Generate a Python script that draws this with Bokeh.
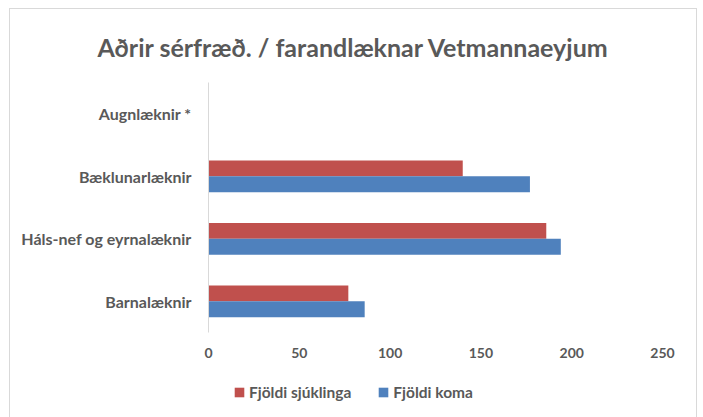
from bokeh.plotting import figure
from bokeh.layouts import column
from bokeh.models import ColumnDataSource, FactorRange, Range1d, Legend, LegendItem, FixedTicker
from bokeh.transform import dodge
from bokeh.embed import file_html
from bokeh.resources import INLINE

categories = ["Augnlæknir *", "Bæklunarlæknir", "Háls-nef og eyrnalæknir", "Barnalæknir"]
fjoldi_sjuklinga = [0, 140, 186, 77]
fjoldi_koma = [0, 177, 194, 86]
x_ticks = [0, 50, 100, 150, 200, 250]
series_names = ["Fjöldi sjúklinga", "Fjöldi koma"]
title_text = "Aðrir sérfræð. / farandlæknar Vetmannaeyjum"

RED = "#C0504D"
BLUE = "#4F81BD"
TXT = "#595959"
FONT = "Lato"

src = ColumnDataSource(dict(cat=categories, sjuk=fjoldi_sjuklinga, koma=fjoldi_koma))

p = figure(width=686, height=361, output_backend="svg", toolbar_location=None,
           y_range=FactorRange(factors=list(reversed(categories)), range_padding=0),
           x_range=Range1d(0, 250),
           min_border_left=198, min_border_right=34, min_border_top=71, min_border_bottom=38)

p.title.text = title_text
p.title.align = "left"
p.title.offset = -111
p.title.text_font = FONT
p.title.text_font_size = "25px"
p.title.text_font_style = "bold"
p.title.text_color = TXT
p.title.standoff = 41

r1 = p.hbar(y=dodge("cat", 0.127, range=p.y_range), right="sjuk", left=0, height=0.254,
            source=src, fill_color=RED, line_color=None)
r2 = p.hbar(y=dodge("cat", -0.127, range=p.y_range), right="koma", left=0, height=0.254,
            source=src, fill_color=BLUE, line_color=None)

p.outline_line_color = None
p.xgrid.visible = False
p.ygrid.visible = False

p.xaxis.ticker = FixedTicker(ticks=x_ticks)
p.xaxis.axis_line_color = None
p.xaxis.major_tick_line_color = None
p.xaxis.minor_tick_line_color = None
p.xaxis.major_label_text_font = FONT
p.xaxis.major_label_text_font_size = "14px"
p.xaxis.major_label_text_font_style = "bold"
p.xaxis.major_label_text_color = TXT
p.xaxis.major_label_standoff = 9

p.yaxis.axis_line_color = "#d9d9d9"
p.yaxis.major_tick_line_color = None
p.yaxis.minor_tick_line_color = None
p.yaxis.major_label_text_font = FONT
p.yaxis.major_label_text_font_size = "16px"
p.yaxis.major_label_text_font_style = "bold"
p.yaxis.major_label_text_color = TXT
p.yaxis.major_label_standoff = 11

# legend strip below the chart (its frame is aligned with the chart frame)
lg = figure(width=686, height=47, output_backend="svg", toolbar_location=None,
            x_range=Range1d(0, 1), y_range=Range1d(0, 1),
            min_border_left=198, min_border_right=34, min_border_top=0, min_border_bottom=0)
lg.axis.visible = False
lg.grid.visible = False
lg.outline_line_color = None
# legend proxies: zero-width bars placed outside the visible range
proxy = ColumnDataSource(dict(y=[-10], right=[0]))
e1 = lg.hbar(y="y", right="right", left=0, height=0.5, source=proxy, fill_color=RED, line_color=None)
e2 = lg.hbar(y="y", right="right", left=0, height=0.5, source=proxy, fill_color=BLUE, line_color=None)

legend = Legend(items=[LegendItem(label=series_names[0], renderers=[e1]),
                       LegendItem(label=series_names[1], renderers=[e2])],
                orientation="horizontal", location=(25, 16),
                label_text_font=FONT, label_text_font_size="15.5px",
                label_text_font_style="bold", label_text_color=TXT,
                glyph_width=12, glyph_height=12, label_standoff=4, spacing=26,
                border_line_color=None, background_fill_alpha=0,
                margin=0, padding=4)
lg.add_layout(legend, "center")

layout = column(p, lg, spacing=0)
layout.styles = {"margin-left": "9px", "margin-top": "8px",
                 "border-top": "1px solid #d9d9d9", "border-left": "1px solid #d9d9d9",
                 "border-right": "1px solid #d9d9d9"}

open("out.html", "w").write(file_html(layout, INLINE))
